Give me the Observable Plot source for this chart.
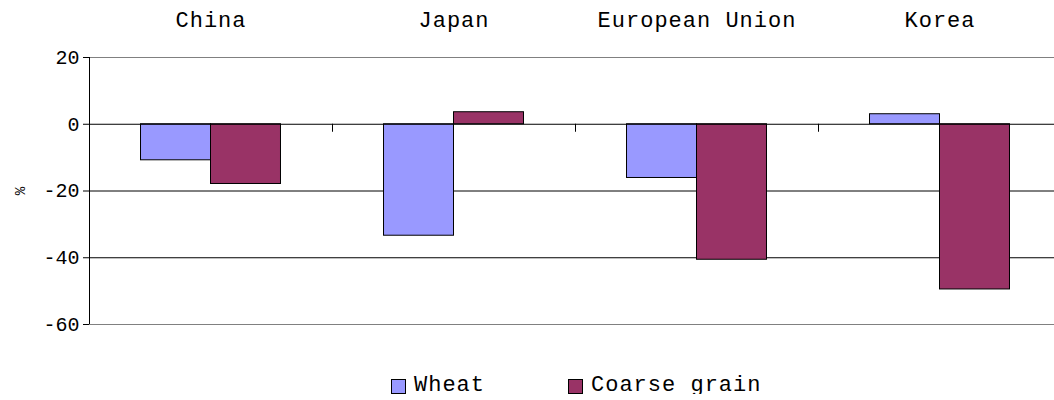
<!DOCTYPE html>
<html><head><meta charset="utf-8">
<script src="https://cdn.jsdelivr.net/npm/d3@7"></script>
<script src="https://cdn.jsdelivr.net/npm/@observablehq/plot@0.6"></script>
<style>
html,body{margin:0;overflow:hidden;background:#fff;font-family:"Liberation Mono",monospace;}
#chart{width:1061px;}
#chart svg{max-width:none !important;}
#legend{display:flex;align-items:center;margin-top:34px;padding-left:391px;font-size:22px;letter-spacing:1px;line-height:16px;color:#000;}
.item{display:flex;align-items:center;}
.sw{width:13px;height:13px;border:1px solid #000;margin-right:8px;}
.fxlab text{letter-spacing:1px;}
</style></head><body><div id="chart"></div><div id="legend"></div>
<script>
const categories = ["China", "Japan", "European Union", "Korea"];
const series = ["Wheat", "Coarse grain"];
const wheat = [-10.8, -33.4, -16.1, 3.0];
const coarseGrain = [-17.9, 3.6, -40.6, -49.5];
const yTicks = [-60, -40, -20, 0, 20];
const colors = ["#9999ff", "#993366"];

const data = categories.flatMap((c, i) => [
  {category: c, series: series[0], value: wheat[i]},
  {category: c, series: series[1], value: coarseGrain[i]}
]);

const plot = Plot.plot({
  width: 1061, height: 344,
  marginLeft: 89, marginRight: 0, marginTop: 57, marginBottom: 20,
  style: {fontFamily: "'Liberation Mono', monospace", fontSize: "22px", color: "#000", background: "#fff"},
  fx: {domain: categories, padding: 0, round: false, axis: null},
  x: {domain: series, paddingInner: 0, paddingOuter: 0.736, round: false, axis: null},
  y: {domain: [-60, 20]},
  color: {domain: series, range: colors},
  marks: [
    Plot.ruleY([20, -60], {stroke: "#808080", strokeOpacity: 1}),
    Plot.ruleY([-20, -40], {stroke: "#000", strokeOpacity: 1}),
    Plot.barY(data, {fx: "category", x: "series", y: "value", fill: "series", stroke: "#000", strokeWidth: 1}),
    Plot.ruleY([0], {stroke: "#000", strokeOpacity: 1}),
    Plot.axisFx({anchor: "top", label: null, tickSize: 0, tickPadding: 31, className: "fxlab"}),
    Plot.axisY({ticks: yTicks, tickSize: 6, tickPadding: 4, label: null, strokeOpacity: 1, fontSize: 20,
      tickFormat: d => String(d)}),
    Plot.axisY({ticks: [], label: "%", labelAnchor: "center", labelOffset: 74, fontSize: 14, labelArrow: "none"}),
    Plot.frame({facet: "super", render(index, scales, values, dimensions, context) {
      const g = d3.create("svg:g").attr("stroke", "#000").attr("fill", "none");
      const fx = scales.fx, y = scales.y;
      g.append("line").attr("x1", fx(categories[0]) + 0.5).attr("x2", fx(categories[0]) + 0.5)
        .attr("y1", y(20)).attr("y2", y(-60));
      for (const c of categories.slice(1)) {
        g.append("line").attr("x1", fx(c) + 0.5).attr("x2", fx(c) + 0.5)
          .attr("y1", y(0)).attr("y2", y(0) + 8);
      }
      return g.node();
    }})
  ]
});
document.getElementById("chart").append(plot);

const legend = d3.select("#legend");
series.forEach((s, i) => {
  const it = legend.append("div").attr("class", "item").style("margin-right", i === 0 ? "83px" : "0");
  it.append("div").attr("class", "sw").style("background", colors[i]);
  it.append("span").text(s);
});
</script>
</body></html>
